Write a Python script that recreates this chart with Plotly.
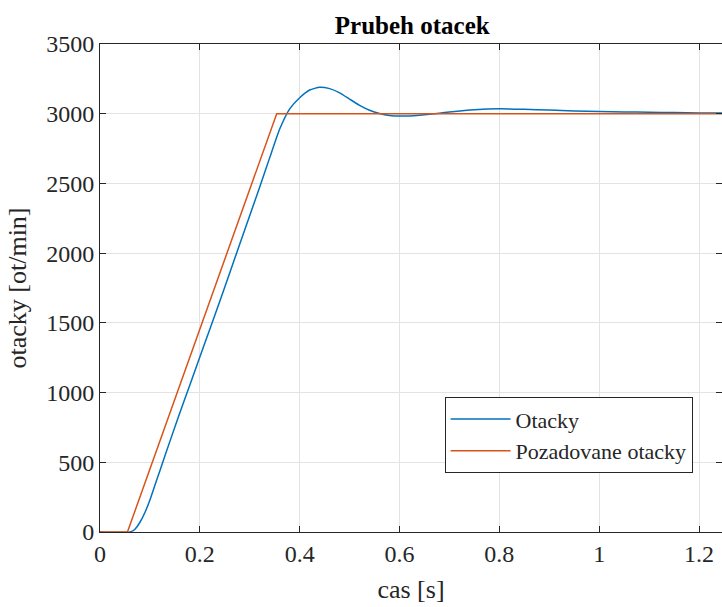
import plotly.graph_objects as go

t_ref = [0.0, 0.055, 0.354, 1.25]
n_ref = [0, 0, 3000, 3000]

t_act = [0.0, 0.06, 0.07, 0.08, 0.09, 0.10, 0.11, 0.12, 0.14, 0.16, 0.18, 0.20, 0.22, 0.24,
         0.26, 0.28, 0.30, 0.32, 0.34, 0.36, 0.38, 0.40, 0.42, 0.44, 0.46, 0.48, 0.50,
         0.52, 0.54, 0.56, 0.58, 0.60, 0.62, 0.64, 0.66, 0.68, 0.70, 0.75, 0.80, 0.85, 0.90,
         0.95, 1.00, 1.05, 1.10, 1.15, 1.20, 1.25]
n_act = [0, 0, 20, 70, 140, 230, 335, 440, 650, 855, 1055, 1255, 1455, 1655,
         1860, 2065, 2270, 2475, 2685, 2890, 3035, 3115, 3170, 3190, 3180, 3150, 3105,
         3060, 3025, 3002, 2988, 2983, 2984, 2989, 2996, 3004, 3012, 3028, 3035, 3032, 3026,
         3020, 3016, 3013, 3010, 3008, 3006, 3005]

x_ticks = [0, 0.2, 0.4, 0.6, 0.8, 1, 1.2]
x_tick_text = ["0", "0.2", "0.4", "0.6", "0.8", "1", "1.2"]
y_ticks = [0, 500, 1000, 1500, 2000, 2500, 3000, 3500]

FONT = "Liberation Serif"

fig = go.Figure()
fig.add_trace(go.Scatter(x=t_act, y=n_act, mode="lines", name="Otacky",
                         line=dict(color="#0072BD", width=1.5, shape="spline", smoothing=0.5)))
fig.add_trace(go.Scatter(x=t_ref, y=n_ref, mode="lines", name="Pozadovane otacky",
                         line=dict(color="#D95319", width=1.5)))

axis_common = dict(showgrid=True, gridcolor="#e3e3e3", gridwidth=1,
                   showline=True, linecolor="#262626", linewidth=1, mirror="ticks",
                   ticks="inside", ticklen=6, tickcolor="#262626", zeroline=False,
                   tickfont=dict(family=FONT, size=24, color="#262626"))

fig.update_layout(
    width=722, height=607,
    font=dict(family=FONT),
    margin=dict(l=100, r=0, t=44, b=75),
    paper_bgcolor="white", plot_bgcolor="white",
    title=dict(text="<b>Prubeh otacek</b>", x=0.571, xanchor="center", y=0.958, yanchor="middle",
               font=dict(family=FONT, size=25, color="black")),
    xaxis=dict(range=[0, 1.246], tickvals=x_ticks, ticktext=x_tick_text,
               title=dict(text="cas [s]", font=dict(family=FONT, size=26, color="#262626"), standoff=14),
               **axis_common),
    yaxis=dict(range=[0, 3500], tickvals=y_ticks,
               title=dict(text="otacky [ot/min]", font=dict(family=FONT, size=26, color="#262626"), standoff=12),
               **axis_common),
    legend=dict(x=0.554, y=0.276, xanchor="left", yanchor="top",
                bordercolor="#262626", borderwidth=1, bgcolor="white",
                font=dict(family=FONT, size=22, color="#262626"),
                tracegroupgap=0, itemwidth=60),
    showlegend=True,
)

fig.write_html("out.html")
